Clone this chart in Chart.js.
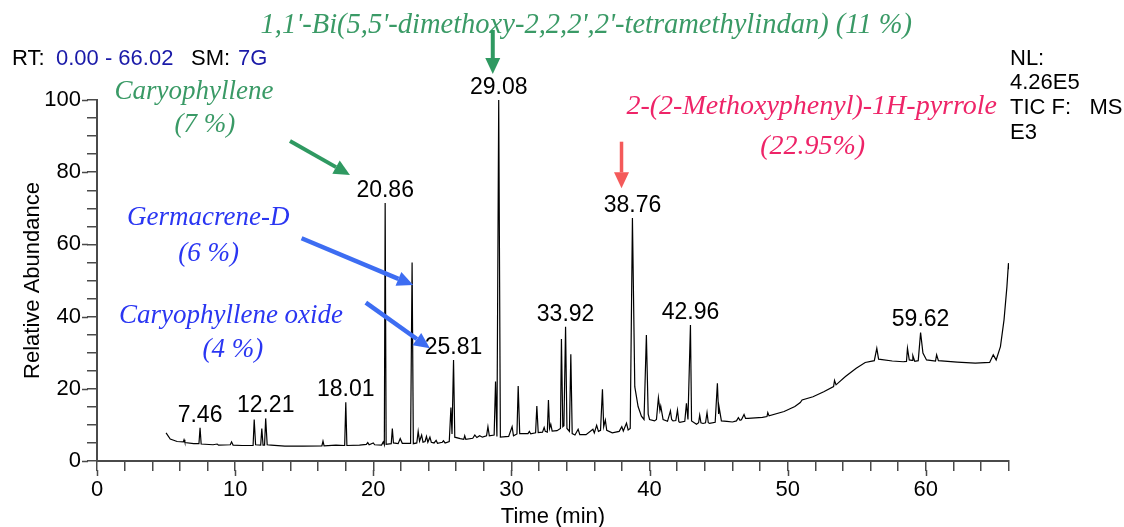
<!DOCTYPE html>
<html>
<head>
<meta charset="utf-8">
<title>TIC chromatogram</title>
<script src="https://cdn.jsdelivr.net/npm/chart.js@4.4.1/dist/chart.umd.min.js"></script>
<style>
  html, body { margin: 0; padding: 0; background: #fff; }
  canvas { display: block; }
</style>
</head>
<body>
<canvas id="ticChart" width="1124" height="527"></canvas>
<script>
// retention time (min) of each trace point
const retentionTime = [
  5.0, 5.3, 5.8, 6.25, 6.3, 6.36, 7.0, 7.38, 7.46, 7.54, 8.4, 8.7, 8.8, 9.65, 9.74, 9.85,
  10.5, 11.3, 11.38, 11.48, 11.85, 11.93, 12.02, 12.13, 12.21, 12.32, 12.6, 13.6, 14.9,
  16.28, 16.36, 16.44, 17.3, 17.93, 18.01, 18.09, 19.0, 19.5, 19.6, 19.7, 20.0, 20.1,
  20.6, 20.72, 20.8, 20.86, 20.93, 21.3, 21.38, 21.46, 21.8, 21.95, 22.1, 22.7, 22.81, 22.9,
  23.15, 23.25, 23.35, 23.5, 23.6, 23.75, 23.85, 23.95, 24.1, 24.2, 24.4, 24.55, 24.65,
  25.0, 25.08, 25.2, 25.5, 25.62, 25.7, 25.81, 25.9, 26.3, 26.55, 26.62, 26.7, 27.2, 27.35,
  27.5, 27.7, 27.9, 28.2, 28.3, 28.4, 28.75, 28.85, 28.95, 29.08, 29.2, 29.8, 30.05, 30.15,
  30.4, 30.49, 30.6, 31.2, 31.3, 31.4, 31.75, 31.84, 31.94, 32.25, 32.37, 32.45, 32.6,
  32.68, 32.76, 32.85, 32.95, 33.3, 33.55, 33.62, 33.72, 33.8, 33.92, 34.02, 34.2, 34.3,
  34.4, 34.6, 34.83, 34.95, 35.4, 35.9, 36.0, 36.17, 36.3, 36.45, 36.59, 36.68, 36.8, 36.9,
  37.3, 37.8, 37.99, 38.1, 38.33, 38.45, 38.6, 38.76, 38.93, 39.17, 39.41, 39.6, 39.77,
  39.9, 40.0, 40.36, 40.5, 40.64, 40.75, 40.81, 40.98, 41.3, 41.51, 41.6, 41.7, 41.9, 42.02,
  42.12, 42.19, 42.55, 42.67, 42.78, 42.96, 43.04, 43.4, 43.55, 43.63, 43.72, 43.87, 44.05,
  44.16, 44.25, 44.35, 44.75, 44.91, 45.0, 45.03, 45.2, 45.6, 46.0, 46.29, 46.43, 46.55,
  46.65, 46.84, 46.95, 47.13, 48.17, 48.5, 48.56, 48.65, 49.74, 50.52, 50.91, 51.04, 51.83,
  52.61, 53.32, 53.39, 53.5, 54.18, 54.96, 55.61, 56.27, 56.45, 56.58, 57.57, 58.36, 58.6,
  58.67, 58.8, 59.0, 59.06, 59.2, 59.45, 59.62, 59.79, 60.05, 60.7, 60.78, 60.91, 62.27,
  63.58, 64.62, 64.88, 65.09, 65.4, 65.66, 65.87, 65.98, 66.02
];

// relative abundance (%) at each of those times
const abundance = [
  7.8, 6.1, 5.4, 5.3, 5.9, 5.1, 4.8, 4.8, 9.2, 4.7, 4.5, 4.7, 4.4, 4.5, 5.3, 4.4,
  4.3, 4.3, 11.5, 4.5, 4.4, 9.0, 4.4, 4.4, 11.8, 4.5, 4.4, 4.1, 4.1,
  4.2, 5.5, 4.2, 4.4, 4.3, 16.3, 4.3, 4.4, 4.6, 5.1, 4.5, 5.0, 4.5,
  4.4, 5.3, 4.5, 71.5, 4.6, 4.8, 9.0, 5.0, 4.8, 6.2, 4.9, 4.9, 55.0, 4.8,
  5.0, 8.2, 5.5, 7.2, 5.2, 5.4, 6.8, 5.2, 6.6, 5.2, 5.0, 5.7, 4.9,
  5.2, 5.6, 5.0, 5.4, 14.8, 7.5, 28.0, 6.6, 6.2, 6.0, 7.0, 6.0, 6.3, 7.2,
  6.5, 7.0, 6.6, 7.0, 9.5, 7.0, 7.2, 22.0, 6.8, 100, 6.6, 6.8, 9.5, 7.0,
  7.5, 20.8, 7.6, 7.6, 8.2, 7.5, 7.8, 15.2, 7.9, 8.0, 9.3, 8.2, 8.0,
  16.9, 9.0, 10.2, 8.3, 8.4, 9.0, 33.8, 9.5, 9.8, 37.2, 9.0, 8.2, 29.6,
  7.6, 7.2, 8.8, 7.3, 7.3, 8.8, 7.8, 9.9, 8.2, 8.5, 19.9, 9.5, 11.3, 8.5,
  7.8, 8.2, 9.5, 8.3, 10.5, 8.6, 9.0, 67.3, 20.6, 15.1, 12.4, 11.5, 34.9,
  13.0, 11.5, 11.1, 11.5, 17.5, 14.0, 15.2, 11.5, 11.0, 13.9, 11.5, 11.1, 11.2, 14.1,
  10.9, 10.7, 11.0, 16.0, 11.5, 37.7, 11.1, 10.2, 10.6, 12.7, 10.6, 10.4, 10.6,
  13.4, 10.6, 10.4, 10.7, 21.5, 13.0, 15.0, 11.1, 11.0, 10.8, 11.1, 12.0, 11.3,
  11.4, 12.9, 11.8, 11.8, 12.1, 12.3, 13.4, 12.5, 13.7, 15.1, 16.2, 16.9, 17.8,
  19.2, 20.6, 22.3, 21.1, 23.4, 25.7, 27.3, 27.8, 31.2, 28.2, 27.7, 27.5, 27.6,
  31.2, 28.0, 27.9, 29.2, 27.6, 27.8, 35.6, 29.9, 28.0, 27.7, 29.4, 27.8, 27.4,
  27.1, 27.3, 29.4, 28.0, 31.7, 39.1, 48.3, 54.8, 53.1
];

// retention times printed above the labelled peaks
const peakLabels = ['7.46', '12.21', '18.01', '20.86', '25.81', '29.08', '33.92', '38.76', '42.96', '59.62'];

// axis range and tick steps
const timeRange = [0, 66.02];
const abundanceRange = [0, 100];
const timeStep = 2;
const abundanceStep = 5;

const sansFont = '"Liberation Sans", Arial, sans-serif';
const serifFont = '"Liberation Serif", "Times New Roman", serif';
const axisColor = '#4a4a4a';
const greenText = '#3a9a66';
const greenArrow = '#2f9961';
const blueText = '#2a36f2';
const blueArrow = '#3d6df2';
const pinkText = '#ee2468';
const redArrow = '#f45a5a';

// compound annotations, anchored in data units (min, %)
const notes = [
  { color: greenText, size: 28.5, lines: [["1,1'-Bi(5,5'-dimethoxy-2,2,2',2'-tetramethylindan) (11 %)", 35.42, 118.56]],
    arrow: { from: [28.65, 119.4], to: [28.65, 107.2], color: greenArrow, width: 4 } },
  { color: greenText, size: 27, lines: [['Caryophyllene', 7.02, 100.2], ['(7 %)', 7.81, 91.0]],
    arrow: { from: [13.97, 88.64], to: [18.31, 79.22], color: greenArrow, width: 4 } },
  { color: blueText, size: 27, lines: [['Germacrene-D', 8.05, 65.37], ['(6 %)', 8.08, 55.48]],
    arrow: { from: [14.81, 61.69], to: [22.89, 48.75], color: blueArrow, width: 4.5 } },
  { color: blueText, size: 27, lines: [['Caryophyllene oxide', 9.70, 38.14], ['(4 %)', 9.84, 28.89]],
    arrow: { from: [19.46, 43.85], to: [24.10, 31.22], color: blueArrow, width: 4.5 } },
  { color: pinkText, size: 28, lines: [['2-(2-Methoxyphenyl)-1H-pyrrole', 51.74, 96.04], ['(22.95%)', 51.81, 85.04]],
    arrow: { from: [37.97, 88.45], to: [37.97, 75.54], color: redArrow, width: 3.5 } }
];

function peakTop(t) {
  let best = 0;
  retentionTime.forEach((rt, i) => {
    if (Math.abs(rt - t) < 0.12 && abundance[i] > best) best = abundance[i];
  });
  return best;
}

function drawArrow(ctx, x1, y1, x2, y2, color, width) {
  const ang = Math.atan2(y2 - y1, x2 - x1);
  const headLen = 16, headW = 15;
  const bx = x2 - headLen * Math.cos(ang);
  const by = y2 - headLen * Math.sin(ang);
  ctx.strokeStyle = color;
  ctx.lineWidth = width;
  ctx.beginPath();
  ctx.moveTo(x1, y1);
  ctx.lineTo(bx, by);
  ctx.stroke();
  ctx.fillStyle = color;
  ctx.beginPath();
  ctx.moveTo(x2, y2);
  ctx.lineTo(bx + headW / 2 * Math.sin(ang), by - headW / 2 * Math.cos(ang));
  ctx.lineTo(bx - headW / 2 * Math.sin(ang), by + headW / 2 * Math.cos(ang));
  ctx.closePath();
  ctx.fill();
}

const decorations = {
  id: 'decorations',
  afterDraw(chart) {
    const { ctx, scales: { x, y } } = chart;
    ctx.save();

    // labelled ticks are a bit longer than the others
    ctx.strokeStyle = axisColor;
    ctx.lineWidth = 1.5;
    ctx.beginPath();
    x.ticks.forEach(t => {
      if (t.value % 10 === 0) {
        const px = Math.round(x.getPixelForValue(t.value)) + 0.5;
        ctx.moveTo(px, y.bottom + 9);
        ctx.lineTo(px, y.bottom + 15);
      }
    });
    y.ticks.forEach(t => {
      if (t.value % 20 === 0) {
        const py = Math.round(y.getPixelForValue(t.value)) + 0.5;
        ctx.moveTo(x.left - 9, py);
        ctx.lineTo(x.left - 15, py);
      }
    });
    ctx.stroke();

    // retention time over each labelled peak
    ctx.fillStyle = '#000';
    ctx.font = '23px ' + sansFont;
    ctx.textAlign = 'center';
    ctx.textBaseline = 'bottom';
    peakLabels.forEach(lbl => {
      const t = parseFloat(lbl);
      ctx.fillText(lbl, x.getPixelForValue(t), y.getPixelForValue(peakTop(t)) - 1);
    });

    // compound names and arrows
    ctx.textBaseline = 'alphabetic';
    notes.forEach(n => {
      ctx.font = 'italic ' + n.size + 'px ' + serifFont;
      ctx.fillStyle = n.color;
      n.lines.forEach(([text, t, v]) => {
        ctx.fillText(text, x.getPixelForValue(t), y.getPixelForValue(v));
      });
      const a = n.arrow;
      drawArrow(ctx,
        x.getPixelForValue(a.from[0]), y.getPixelForValue(a.from[1]),
        x.getPixelForValue(a.to[0]), y.getPixelForValue(a.to[1]),
        a.color, a.width);
    });

    // header text from the data system
    ctx.font = '22px ' + sansFont;
    ctx.textAlign = 'left';
    ctx.textBaseline = 'middle';
    const header = [['RT:', '#000', 12], ['0.00 - 66.02', '#1a1aa8', 56], ['SM:', '#000', 191], ['7G', '#1a1aa8', 238]];
    header.forEach(([s, c, hx]) => {
      ctx.fillStyle = c;
      ctx.fillText(s, hx, 59);
    });
    ctx.fillStyle = '#000';
    ['NL:', '4.26E5', 'TIC F:   MS', 'E3'].forEach((s, i) => {
      ctx.fillText(s, x.right + 1, [59, 83, 108, 133][i]);
    });

    ctx.restore();
  }
};

const ctx = document.getElementById('ticChart').getContext('2d');
new Chart(ctx, {
  type: 'line',
  data: {
    datasets: [{
      label: 'TIC',
      data: retentionTime.map((t, i) => ({ x: t, y: abundance[i] })),
      borderColor: '#000',
      borderWidth: 1.2,
      pointRadius: 0,
      tension: 0,
      fill: false
    }]
  },
  options: {
    responsive: false,
    animation: false,
    devicePixelRatio: 1,
    layout: { padding: { top: 100, right: 115, left: 0, bottom: 0 } },
    plugins: { legend: { display: false }, tooltip: { enabled: false } },
    scales: {
      x: {
        type: 'linear',
        min: timeRange[0],
        max: timeRange[1],
        afterFit: s => { s.height = 66; },
        grid: { drawOnChartArea: false, drawTicks: true, tickLength: 10, color: axisColor, lineWidth: 1.5 },
        border: { color: axisColor, width: 2 },
        ticks: {
          stepSize: timeStep,
          autoSkip: false,
          maxRotation: 0,
          padding: 6,
          color: '#000',
          font: { family: sansFont, size: 22 },
          callback: v => (v % 10 === 0 ? String(v) : '')
        },
        title: {
          display: true,
          text: 'Time (min)',
          color: '#000',
          font: { family: sansFont, size: 22, lineHeight: 1 },
          padding: { top: 0, bottom: -1 }
        }
      },
      y: {
        min: abundanceRange[0],
        max: abundanceRange[1],
        afterFit: s => { s.width = 97; },
        grid: { drawOnChartArea: false, drawTicks: true, tickLength: 10, color: axisColor, lineWidth: 1.5 },
        border: { color: axisColor, width: 2 },
        ticks: {
          stepSize: abundanceStep,
          autoSkip: false,
          padding: 6,
          color: '#000',
          font: { family: sansFont, size: 22 },
          callback: v => (v % 20 === 0 ? String(v) : '')
        },
        title: {
          display: true,
          text: 'Relative Abundance',
          color: '#000',
          font: { family: sansFont, size: 22, lineHeight: 1 },
          padding: { top: 22, bottom: 0 }
        }
      }
    }
  },
  plugins: [decorations]
});
</script>
</body>
</html>
